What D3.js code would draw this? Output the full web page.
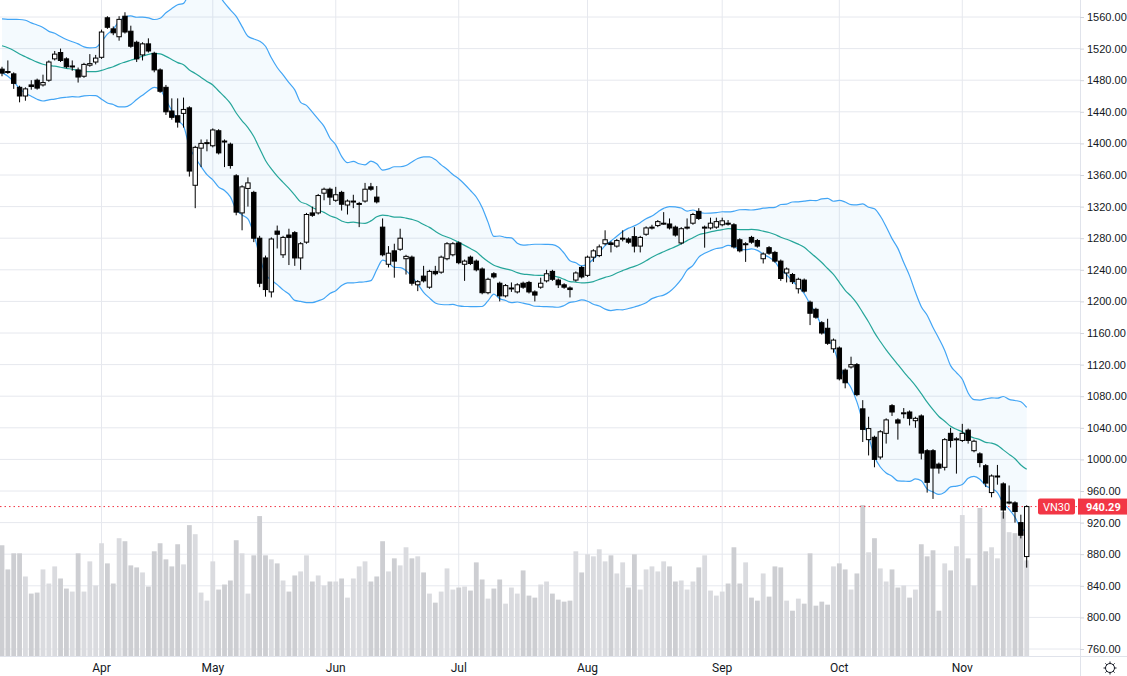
<!DOCTYPE html>
<html>
<head>
<meta charset="utf-8">
<script src="https://cdn.jsdelivr.net/npm/d3@7"></script>
<style>
  body { margin: 0; background: #fff; }
  svg { display: block; font-family: Roboto, "Noto Sans", sans-serif; }
</style>
</head>
<body>
<div id="chart"></div>
<script>
// OHLC per trading day
const opens = [1494,1491,1488,1471,1460,1474,1480,1474,1480,1507,1515,1507,1498,1493,1485,1499,1503,1509,1559,1545,1535,1561,1542,1528,1512,1526,1514,1493,1471,1441,1435,1438,1445,1347,1394,1400,1397,1416,1403,1399,1359,1312,1343,1338,1280,1255,1212,1289,1259,1284,1287,1255,1275,1312,1312,1337,1342,1328,1338,1322,1327,1324,1327,1345,1332,1294,1247,1264,1266,1254,1256,1221,1232,1218,1238,1237,1254,1259,1274,1247,1256,1251,1241,1211,1235,1223,1207,1217,1212,1223,1224,1212,1218,1226,1238,1227,1221,1217,1227,1243,1233,1256,1258,1273,1274,1270,1280,1279,1282,1270,1285,1294,1296,1299,1298,1294,1274,1294,1299,1314,1294,1293,1294,1297,1299,1297,1278,1272,1281,1277,1254,1268,1262,1251,1236,1234,1216,1227,1199,1190,1173,1166,1140,1141,1113,1117,1120,1064,1025,1028,1003,1033,1068,1050,1059,1060,1049,1055,1011,1011,994,990,1033,1026,1024,1037,1011,1007,992,958,979,969,946,945,920,877];
const highs = [1497,1505,1490,1473,1471,1480,1482,1487,1505,1517,1520,1509,1505,1496,1502,1513,1512,1544,1561,1548,1561,1566,1549,1530,1528,1533,1516,1495,1474,1457,1457,1458,1447,1397,1405,1405,1419,1418,1405,1401,1361,1347,1357,1340,1283,1258,1281,1296,1283,1292,1289,1275,1312,1320,1336,1344,1344,1345,1340,1329,1335,1326,1350,1350,1346,1305,1270,1273,1292,1259,1258,1227,1245,1240,1245,1258,1275,1275,1276,1253,1258,1253,1243,1230,1237,1225,1222,1224,1223,1225,1226,1214,1230,1240,1240,1229,1223,1219,1238,1245,1258,1266,1272,1290,1276,1279,1290,1281,1294,1283,1295,1297,1303,1313,1305,1296,1294,1305,1312,1318,1296,1306,1306,1306,1303,1299,1280,1275,1283,1279,1262,1270,1264,1253,1243,1236,1230,1229,1201,1192,1175,1178,1153,1143,1115,1130,1122,1075,1054,1030,1037,1052,1070,1052,1065,1062,1054,1057,1013,1013,996,1027,1040,1028,1045,1039,1025,1009,994,981,993,971,967,947,930,942];
const lows = [1485,1488,1469,1452,1454,1468,1468,1472,1478,1505,1503,1495,1492,1477,1483,1497,1500,1507,1545,1537,1530,1539,1521,1503,1505,1515,1490,1464,1436,1430,1420,1420,1358,1318,1370,1390,1395,1386,1370,1368,1309,1290,1320,1275,1218,1206,1205,1267,1255,1246,1245,1240,1273,1307,1310,1328,1322,1326,1315,1310,1318,1294,1325,1340,1324,1257,1243,1230,1264,1234,1220,1213,1224,1216,1233,1235,1252,1257,1247,1226,1246,1238,1209,1209,1229,1200,1205,1212,1210,1216,1210,1200,1216,1224,1226,1217,1216,1205,1225,1229,1231,1250,1256,1271,1262,1268,1276,1273,1262,1262,1283,1291,1294,1297,1291,1282,1272,1291,1297,1303,1268,1291,1292,1295,1296,1267,1262,1250,1273,1268,1248,1259,1249,1226,1224,1222,1210,1211,1170,1178,1158,1145,1135,1100,1090,1115,1080,1022,1005,990,1000,1020,1055,1025,1052,1043,1040,1000,958,950,982,986,1015,982,1022,1020,1009,990,965,952,968,925,943,920,900,863];
const closes = [1489,1490,1476,1460,1469,1472,1470,1477,1503,1513,1505,1497,1498,1484,1500,1501,1508,1541,1547,1540,1557,1541,1523,1507,1526,1517,1493,1466,1440,1433,1427,1443,1365,1395,1400,1401,1417,1388,1402,1372,1313,1345,1350,1280,1223,1215,1279,1285,1281,1281,1255,1273,1310,1309,1334,1342,1332,1335,1323,1327,1327,1324,1342,1342,1326,1259,1261,1251,1280,1257,1223,1225,1226,1238,1235,1256,1273,1273,1249,1251,1248,1240,1211,1228,1231,1207,1220,1217,1221,1218,1212,1208,1223,1235,1228,1221,1218,1215,1236,1231,1256,1264,1269,1278,1272,1277,1280,1275,1270,1281,1293,1294,1301,1299,1293,1284,1292,1294,1310,1305,1294,1299,1301,1302,1298,1269,1264,1273,1275,1270,1260,1261,1251,1229,1241,1225,1228,1213,1185,1180,1160,1147,1151,1102,1097,1120,1082,1038,1039,1000,1035,1050,1060,1046,1059,1052,1052,1008,971,989,989,1025,1024,1026,1033,1024,1023,996,970,979,979,936,946,934,904,940.29];
// closes of the 19 sessions before the visible window (for the bands)
const preCloses = [1540,1545,1550,1538,1542,1535,1530,1538,1528,1532,1525,1520,1515,1522,1510,1505,1512,1500,1495];
const volumes = [110,86,102,102,79,62,63,86,72,89,77,67,64,102,64,94,70,112,92,72,117,114,90,88,83,69,104,112,96,89,111,91,130,121,63,55,94,66,71,75,115,102,62,100,139,100,96,92,75,64,80,84,100,74,80,70,74,74,77,58,
  77,89,94,74,79,114,84,97,90,108,97,99,83,62,53,64,87,66,68,69,65,93,76,57,67,76,52,68,62,85,60,58,71,74,62,56,54,55,104,83,101,99,106,94,100,82,93,68,101,66,86,89,84,94,89,74,75,66,
  74,88,100,65,60,64,72,108,72,93,58,55,82,59,89,88,55,45,57,52,102,50,54,51,89,92,86,66,82,150,103,117,87,74,86,68,70,58,66,111,99,105,45,92,85,109,140,97,70,147,104,108,97,143,123,122,120,95];
const monthLabels = ["Apr","May","Jun","Jul","Aug","Sep","Oct","Nov"];
const monthIndex = [17,36,57,78,100,123,143,164];
const priceTicks = d3.range(760, 1561, 40);
const lastPrice = 940.29;
const symbol = "VN30";

const W = 1127, H = 676;
const plotRight = 1080, axisY = 656;

const svg = d3.select("#chart").append("svg").attr("width", W).attr("height", H);

const x = d3.scaleLinear().domain([0, closes.length - 1]).range([2, 1026.7]);
const y = d3.scaleLinear().domain([760, 1560]).range([649, 17]);
const yVol = d3.scaleLinear().domain([0, 150]).range([axisY, 505]);

// grid
svg.append("g").selectAll("line").data(priceTicks).join("line")
  .attr("x1", 0).attr("x2", plotRight)
  .attr("y1", d => y(d)).attr("y2", d => y(d))
  .attr("stroke", "#e6e8ee");
svg.append("g").selectAll("line").data(monthIndex).join("line")
  .attr("x1", d => x(d)).attr("x2", d => x(d))
  .attr("y1", 0).attr("y2", axisY)
  .attr("stroke", "#e6e8ee");

// volume
svg.append("g").selectAll("rect").data(volumes).join("rect")
  .attr("x", (d, i) => x(i) - 2.4).attr("width", 4.8)
  .attr("y", d => yVol(d)).attr("height", d => axisY - yVol(d))
  .attr("fill", (d, i) => closes[i] < opens[i] ? "#cdced2" : "#dadbdf");

// bollinger bands (20, 2)
const all = preCloses.concat(closes);
const bands = closes.map((c, i) => {
  const win = all.slice(i, i + 20);
  const m = d3.mean(win);
  const sd = Math.sqrt(d3.mean(win, v => (v - m) ** 2));
  return { i, mid: m, up: m + 2 * sd, lo: m - 2 * sd };
});
svg.append("path").datum(bands)
  .attr("d", d3.area().x(d => x(d.i)).y0(d => y(d.lo)).y1(d => y(d.up)).curve(d3.curveMonotoneX))
  .attr("fill", "rgba(33,150,243,0.05)");
[["up", "#42a5f5"], ["lo", "#42a5f5"], ["mid", "#26a69a"]].forEach(([k, col]) => {
  svg.append("path").datum(bands)
    .attr("d", d3.line().x(d => x(d.i)).y(d => y(d[k])).curve(d3.curveMonotoneX))
    .attr("fill", "none").attr("stroke", col).attr("stroke-width", 1.2);
});

// last price line
svg.append("line")
  .attr("x1", 0).attr("x2", plotRight).attr("y1", y(lastPrice)).attr("y2", y(lastPrice))
  .attr("stroke", "#f23645").attr("stroke-dasharray", "1.5,3");

// candles
const candles = svg.append("g").selectAll("g").data(closes).join("g");
candles.append("line")
  .attr("x1", (d, i) => x(i)).attr("x2", (d, i) => x(i))
  .attr("y1", (d, i) => y(highs[i])).attr("y2", (d, i) => y(lows[i]))
  .attr("stroke", "#000").attr("stroke-width", 1);
candles.append("rect")
  .attr("x", (d, i) => x(i) - 2.2).attr("width", 4.4)
  .attr("y", (d, i) => y(Math.max(d, opens[i])))
  .attr("height", (d, i) => Math.max(1, Math.abs(y(d) - y(opens[i]))))
  .attr("fill", (d, i) => d < opens[i] ? "#000" : "#fff")
  .attr("stroke", "#000").attr("stroke-width", 1);

// right price axis
svg.append("rect").attr("x", plotRight).attr("y", 0).attr("width", W - plotRight).attr("height", H).attr("fill", "#fff");
svg.append("line").attr("x1", plotRight + 0.5).attr("x2", plotRight + 0.5).attr("y1", 0).attr("y2", H).attr("stroke", "#e0e3eb");
const yAxis = svg.append("g").attr("transform", `translate(${plotRight},0)`)
  .call(d3.axisRight(y).tickValues(priceTicks).tickFormat(d => d.toFixed(2)).tickSize(4).tickPadding(3));
yAxis.select(".domain").remove();
yAxis.selectAll("line").attr("stroke", "#d1d4dc");
yAxis.selectAll("text").attr("fill", "#131722").style("font-size", "11px");

// bottom axis
svg.append("line").attr("x1", 0).attr("x2", W).attr("y1", axisY + 0.5).attr("y2", axisY + 0.5).attr("stroke", "#e0e3eb");
svg.append("g").selectAll("text").data(monthLabels).join("text")
  .attr("x", (d, i) => x(monthIndex[i])).attr("y", 672)
  .attr("text-anchor", "middle").attr("fill", "#131722").style("font-size", "12px")
  .text(d => d);

// price tags
const ty = y(lastPrice);
svg.append("rect").attr("x", 1038).attr("y", ty - 8).attr("width", 37).attr("height", 16).attr("rx", 2).attr("fill", "#f23645");
svg.append("text").attr("x", 1056.5).attr("y", ty + 4).attr("text-anchor", "middle").attr("fill", "#fff").style("font-size", "11px").text(symbol);
svg.append("rect").attr("x", 1078).attr("y", ty - 8).attr("width", 49).attr("height", 16).attr("fill", "#f23645");
svg.append("text").attr("x", 1086).attr("y", ty + 4).attr("fill", "#fff").style("font-size", "11px").style("font-weight", "bold").text(lastPrice.toFixed(2));

// settings gear
const gear = svg.append("g").attr("transform", "translate(1110,668)").attr("stroke", "#131722").attr("fill", "none");
gear.append("circle").attr("r", 4.5);
d3.range(8).forEach(k => {
  const a = k * Math.PI / 4;
  gear.append("line").attr("x1", 4.5 * Math.cos(a)).attr("y1", 4.5 * Math.sin(a))
    .attr("x2", 6.5 * Math.cos(a)).attr("y2", 6.5 * Math.sin(a));
});
</script>
</body>
</html>
